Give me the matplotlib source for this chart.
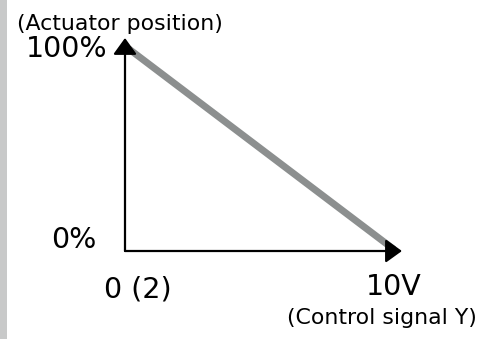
import matplotlib.pyplot as plt
import matplotlib.patches as patches

# control signal (V) vs actuator position (%)
signal = [0, 10]
position = [100, 0]

y_ticks = [100, 0]
y_tick_labels = ['100%', '0%']
x_tick_labels = ['0 (2)', '10V']
y_title = '(Actuator position)'
x_title = '(Control signal Y)'

plt.rcParams['font.family'] = ['DejaVu Sans']

fig = plt.figure(figsize=(4.79, 3.39), dpi=100)
W, H = 479, 339

# grey strip on the left edge
fig.patches.append(patches.Rectangle((0, 0), 7 / W, 1, transform=fig.transFigure,
                                     facecolor='#c8c9c9', edgecolor='none'))

ax = fig.add_axes([125 / W, 88 / H, 271 / W, 205 / H])
ax.set_xlim(0, 10)
ax.set_ylim(0, 100)
ax.axis('off')

ax.plot(signal, position, color='#8c8f8f', lw=5, solid_capstyle='butt', zorder=1)

arrow = dict(arrowstyle='-|>,head_length=0.5,head_width=0.36', mutation_scale=20,
             lw=1.6, color='black', shrinkA=0, shrinkB=0)
ax.annotate('', xy=(10.22, 0), xytext=(0, 0), arrowprops=arrow, annotation_clip=False, zorder=3)
ax.annotate('', xy=(0, 103.9), xytext=(0, 0), arrowprops=arrow, annotation_clip=False, zorder=3)

big = 20.5
ax.text(-0.63, y_ticks[0] - 1.5, y_tick_labels[0], ha='right', va='center', fontsize=big, clip_on=False)
ax.text(-1.07, y_ticks[1] + 5.5, y_tick_labels[1], ha='right', va='center', fontsize=big, clip_on=False)
ax.text(0.48, -19, x_tick_labels[0], ha='center', va='center', fontsize=big, clip_on=False)
ax.text(9.9, -17.5, x_tick_labels[1], ha='center', va='center', fontsize=big, clip_on=False)

ax.text(-3.97, 110.5, y_title, ha='left', va='center', fontsize=15.8, clip_on=False)
ax.text(13.0, -32.5, x_title, ha='right', va='center', fontsize=15.8, clip_on=False)

fig.savefig('out.png', dpi=100)
